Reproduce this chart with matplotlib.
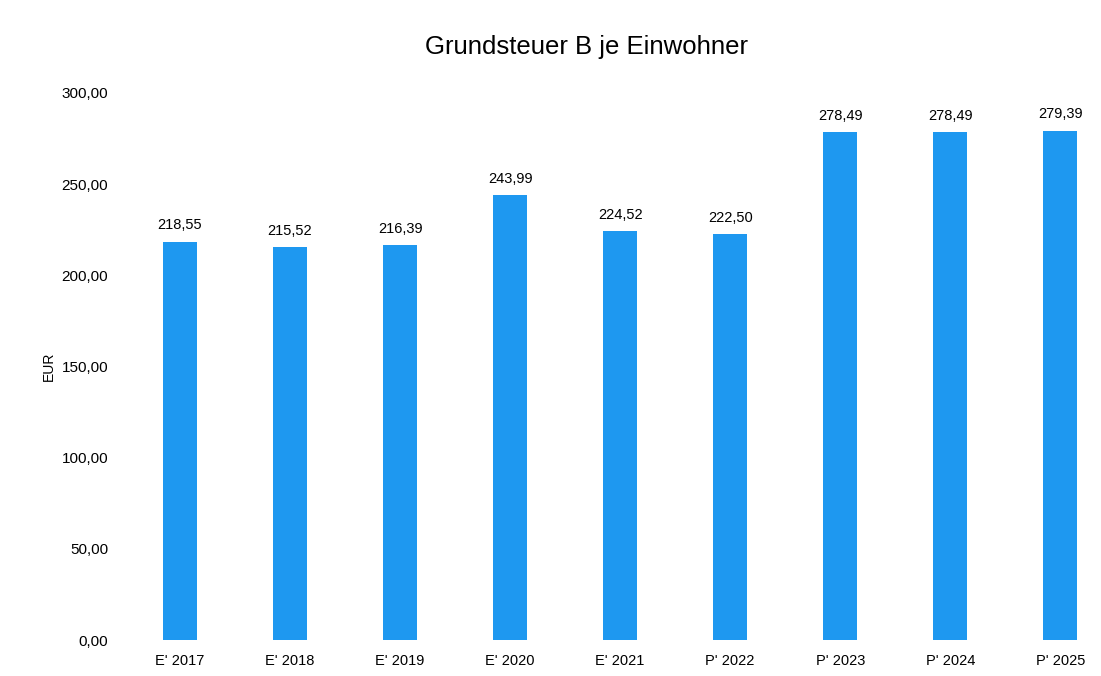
import matplotlib
matplotlib.use("Agg")
import matplotlib.pyplot as plt

plt.rcParams['font.family'] = ['Liberation Sans', 'DejaVu Sans']

# Daten
kategorien = ["E' 2017", "E' 2018", "E' 2019", "E' 2020", "E' 2021",
              "P' 2022", "P' 2023", "P' 2024", "P' 2025"]
werte = [218.55, 215.52, 216.39, 243.99, 224.52, 222.50, 278.49, 278.49, 279.39]
y_ticks = [0, 50, 100, 150, 200, 250, 300]

fig = plt.figure(figsize=(11.01, 6.76), dpi=100)
ax = fig.add_axes([125 / 1101, 36 / 676, (1101 - 125) / 1101, (640 - 93) / 676])

x = list(range(len(kategorien)))
bars = ax.bar(x, werte, width=0.31, color="#1e98f0")

for xi, v in zip(x, werte):
    ax.text(xi, v + 5, f"{v:.2f}".replace(".", ","), ha="center", va="bottom", fontsize=10.5)

ax.set_xlim(-0.5, 8.37)
ax.set_ylim(0, 300)
ax.set_yticks(y_ticks)
ax.set_yticklabels([f"{t:.2f}".replace(".", ",") for t in y_ticks], fontsize=11)
ax.set_xticks(x)
ax.set_xticklabels(kategorien, fontsize=10.5)
ax.tick_params(length=0, pad=10)
ax.tick_params(axis="y", pad=12)
for s in ax.spines.values():
    s.set_visible(False)

ax.set_ylabel("EUR", fontsize=10, labelpad=4)
fig.text(0.533, 1 - 47 / 676, "Grundsteuer B je Einwohner", ha="center", va="center", fontsize=18.5)

fig.savefig("out.png", dpi=100)
